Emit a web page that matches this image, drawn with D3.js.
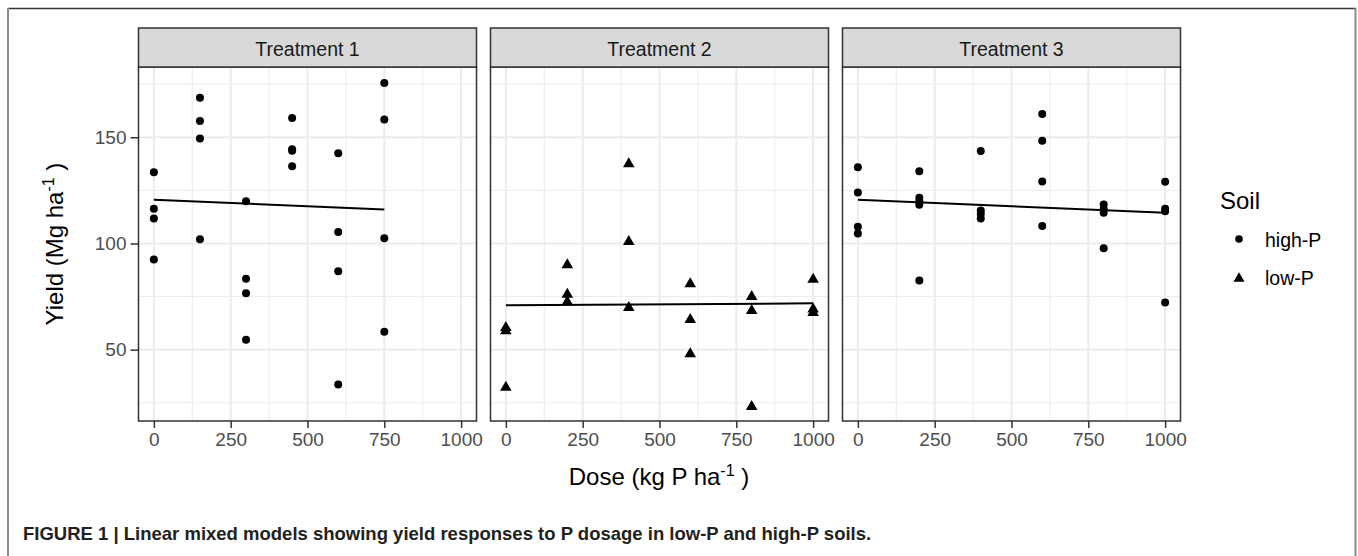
<!DOCTYPE html>
<html>
<head>
<meta charset="utf-8">
<script src="https://cdn.jsdelivr.net/npm/d3@7/dist/d3.min.js"></script>
<style>
  body { margin: 0; background: #fff; }
  text { font-family: "Liberation Sans", Arial, Helvetica, sans-serif; }
</style>
</head>
<body>
<div id="chart"></div>
<script>
// facets
const treatments = ["Treatment 1", "Treatment 2", "Treatment 3"];
const soilOfTreatment = ["high-P", "low-P", "high-P"];
const soils = ["high-P", "low-P"];

// Treatment 1 (high-P)
const t1Dose  = [0, 0, 0, 0, 150, 150, 150, 150, 300, 300, 300, 300, 450, 450, 450, 450, 600, 600, 600, 600, 750, 750, 750, 750];
const t1Yield = [133.5, 116.4, 111.7, 92.4, 168.6, 157.7, 149.4, 102.0, 119.9, 83.4, 76.6, 54.7, 159.1, 144.4, 143.6, 136.4, 142.5, 105.4, 86.9, 33.6, 175.5, 158.4, 102.5, 58.4];

// Treatment 2 (low-P)
const t2Dose  = [0, 0, 0, 200, 200, 200, 400, 400, 400, 600, 600, 600, 800, 800, 800, 1000, 1000, 1000];
const t2Yield = [61.1, 59.6, 33.0, 90.7, 76.8, 73.3, 138.2, 101.6, 70.6, 81.8, 64.9, 48.8, 75.7, 69.2, 24.0, 83.9, 69.8, 68.2];

// Treatment 3 (high-P)
const t3Dose  = [0, 0, 0, 0, 200, 200, 200, 200, 200, 400, 400, 400, 400, 600, 600, 600, 600, 800, 800, 800, 800, 1000, 1000, 1000, 1000];
const t3Yield = [135.9, 124.0, 107.9, 104.7, 134.0, 121.5, 119.9, 118.2, 82.6, 143.5, 115.5, 113.9, 111.7, 161.0, 148.3, 129.2, 108.2, 118.3, 116.1, 114.5, 97.8, 129.1, 116.3, 115.2, 72.2];

// fitted lines (model predictions at the ends of each dose range)
const fitDose  = [[0, 750], [0, 1000], [0, 1000]];
const fitYield = [[120.6, 116.0], [70.9, 71.8], [120.6, 114.5]];

const xTicks = [0, 250, 500, 750, 1000];
const xMinor = [125, 375, 625, 875];
const yTicks = [50, 100, 150];
const yMinor = [25, 75, 125, 175];

const doses = [t1Dose, t2Dose, t3Dose];
const yields = [t1Yield, t2Yield, t3Yield];

const W = 1358, H = 556;
const svg = d3.select("#chart").append("svg")
    .attr("width", W).attr("height", H)
    .style("display", "block");

svg.append("rect").attr("width", W).attr("height", H).attr("fill", "#fff");

// outer figure frame
svg.append("line").attr("x1", 8).attr("x2", 1356).attr("y1", 8.5).attr("y2", 8.5)
    .attr("stroke", "#3a3a3a").attr("stroke-width", 1.5);
svg.append("line").attr("x1", 8).attr("x2", 8).attr("y1", 8).attr("y2", H)
    .attr("stroke", "#8a8a8a").attr("stroke-width", 2);
svg.append("line").attr("x1", 1355.5).attr("x2", 1355.5).attr("y1", 8).attr("y2", H)
    .attr("stroke", "#8a8a8a").attr("stroke-width", 2);

// layout
const panelW = 338, panelGap = 14, panelLeft = 138.5;
const stripTop = 28, stripBottom = 67, panelBottom = 421;

// scales (ggplot-like 5% expansion)
const allDose = doses.flat(), allYield = yields.flat();
const xExt = d3.extent(allDose), yExt = d3.extent(allYield);
const xPad = (xExt[1] - xExt[0]) * 0.05, yPad = (yExt[1] - yExt[0]) * 0.05;
const y = d3.scaleLinear().domain([yExt[0] - yPad, yExt[1] + yPad]).range([panelBottom, stripBottom]);

const triangle = s => `M0,${-s * 0.5}L${s * 0.58},${s * 0.5}L${-s * 0.58},${s * 0.5}Z`;

treatments.forEach((name, i) => {
    const x0 = panelLeft + i * (panelW + panelGap);
    const x = d3.scaleLinear().domain([xExt[0] - xPad, xExt[1] + xPad]).range([x0, x0 + panelW]);
    const g = svg.append("g");

    // grid
    g.selectAll(".xminor").data(xMinor).join("line")
        .attr("x1", d => x(d)).attr("x2", d => x(d))
        .attr("y1", stripBottom).attr("y2", panelBottom)
        .attr("stroke", "#ebebeb").attr("stroke-width", 1);
    g.selectAll(".yminor").data(yMinor).join("line")
        .attr("x1", x0).attr("x2", x0 + panelW)
        .attr("y1", d => y(d)).attr("y2", d => y(d))
        .attr("stroke", "#ebebeb").attr("stroke-width", 1);
    g.selectAll(".xmajor").data(xTicks).join("line")
        .attr("x1", d => x(d)).attr("x2", d => x(d))
        .attr("y1", stripBottom).attr("y2", panelBottom)
        .attr("stroke", "#ebebeb").attr("stroke-width", 2);
    g.selectAll(".ymajor").data(yTicks).join("line")
        .attr("x1", x0).attr("x2", x0 + panelW)
        .attr("y1", d => y(d)).attr("y2", d => y(d))
        .attr("stroke", "#ebebeb").attr("stroke-width", 2);

    // points
    const pts = doses[i].map((d, k) => ({ dose: d, yield: yields[i][k] }));
    if (soilOfTreatment[i] === "high-P") {
        g.selectAll(".pt").data(pts).join("circle")
            .attr("cx", d => x(d.dose)).attr("cy", d => y(d.yield))
            .attr("r", 4).attr("fill", "#000");
    } else {
        g.selectAll(".pt").data(pts).join("path")
            .attr("d", triangle(10))
            .attr("transform", d => `translate(${x(d.dose)},${y(d.yield)})`)
            .attr("fill", "#000");
    }

    // fitted line
    g.append("line")
        .attr("x1", x(fitDose[i][0])).attr("y1", y(fitYield[i][0]))
        .attr("x2", x(fitDose[i][1])).attr("y2", y(fitYield[i][1]))
        .attr("stroke", "#000").attr("stroke-width", 2);

    // panel border
    g.append("rect").attr("x", x0).attr("y", stripBottom)
        .attr("width", panelW).attr("height", panelBottom - stripBottom)
        .attr("fill", "none").attr("stroke", "#333").attr("stroke-width", 1.5);

    // strip
    g.append("rect").attr("x", x0).attr("y", stripTop)
        .attr("width", panelW).attr("height", stripBottom - stripTop)
        .attr("fill", "#d9d9d9").attr("stroke", "#333").attr("stroke-width", 1.5);
    g.append("text").attr("x", x0 + panelW / 2).attr("y", 55.5)
        .attr("text-anchor", "middle").attr("font-size", 19.5).attr("fill", "#1a1a1a")
        .text(name);

    // x axis
    const xa = g.append("g").attr("transform", `translate(0,${panelBottom})`)
        .call(d3.axisBottom(x).tickValues(xTicks).tickFormat(d3.format("d")).tickSize(7).tickPadding(5));
    xa.select(".domain").remove();
    xa.selectAll(".tick line").attr("stroke", "#333").attr("stroke-width", 1.5);
    xa.selectAll(".tick text").attr("font-size", 19).attr("fill", "#4d4d4d")
        .style("font-family", "'Liberation Sans', Arial, sans-serif");

    if (i === 0) {
        const ya = g.append("g").attr("transform", `translate(${x0},0)`)
            .call(d3.axisLeft(y).tickValues(yTicks).tickFormat(d3.format("d")).tickSize(8).tickPadding(4));
        ya.select(".domain").remove();
        ya.selectAll(".tick line").attr("stroke", "#333").attr("stroke-width", 1.5);
        ya.selectAll(".tick text").attr("font-size", 19).attr("fill", "#4d4d4d")
            .style("font-family", "'Liberation Sans', Arial, sans-serif");
    }
});

// axis titles
const xTitle = svg.append("text").attr("x", 659).attr("y", 485)
    .attr("text-anchor", "middle").attr("font-size", 24).attr("fill", "#000");
xTitle.append("tspan").text("Dose (kg P ha");
xTitle.append("tspan").attr("dy", -9).attr("font-size", 16).text("-1");
xTitle.append("tspan").attr("dy", 9).text(" )");

const yTitle = svg.append("text")
    .attr("transform", `translate(62.5,${(stripBottom + panelBottom) / 2}) rotate(-90)`)
    .attr("text-anchor", "middle").attr("font-size", 24).attr("fill", "#000");
yTitle.append("tspan").text("Yield (Mg ha");
yTitle.append("tspan").attr("dy", -9).attr("font-size", 16).text("-1");
yTitle.append("tspan").attr("dy", 9).text(" )");

// legend
svg.append("text").attr("x", 1220).attr("y", 209)
    .attr("font-size", 24).attr("fill", "#000").text("Soil");
soils.forEach((s, k) => {
    const cy = 239 + k * 38;
    if (s === "high-P") {
        svg.append("circle").attr("cx", 1239).attr("cy", cy).attr("r", 3.8).attr("fill", "#000");
    } else {
        svg.append("path").attr("d", triangle(9.5))
            .attr("transform", `translate(1239,${cy})`).attr("fill", "#000");
    }
    svg.append("text").attr("x", 1265).attr("y", cy + 7.5)
        .attr("font-size", 19.5).attr("fill", "#000").text(s);
});

// caption
const cap = svg.append("text").attr("x", 23).attr("y", 540)
    .attr("font-size", 17).attr("font-weight", "bold").attr("fill", "#231f20")
    .text("FIGURE 1 | Linear mixed models showing yield responses to P dosage in low-P and high-P soils.");
const capLen = cap.node().getComputedTextLength();
cap.attr("font-size", 17 * 849 / capLen);
</script>
</body>
</html>
